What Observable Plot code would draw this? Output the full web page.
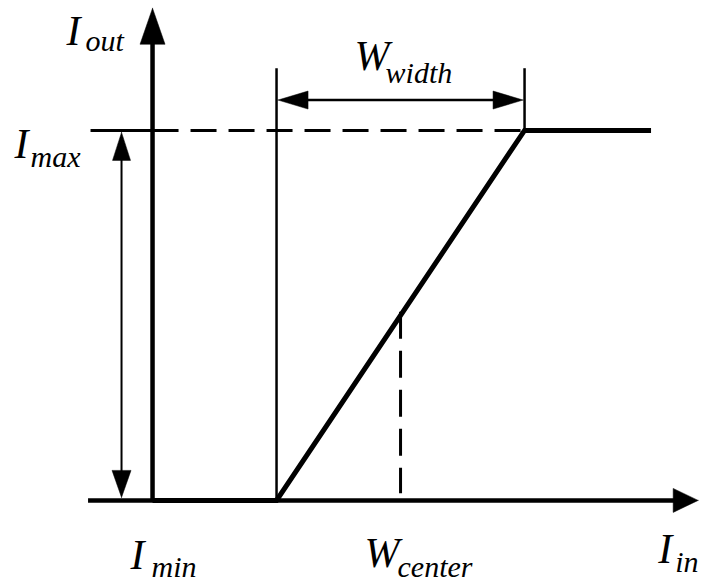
<!DOCTYPE html>
<html><head><meta charset="utf-8">
<script src="https://cdn.jsdelivr.net/npm/d3@7"></script>
<script src="https://cdn.jsdelivr.net/npm/@observablehq/plot@0.6"></script>
<style>
html,body{margin:0;padding:0;background:#fff;overflow:hidden}
#chart svg text{font-family:"Liberation Serif","Times New Roman",serif;font-style:italic}
</style>
</head><body><div id="chart"></div>
<script>
// x: input intensity in window units (Imin = 0, window start = 1, centre = 2, end = 3)
// y: output intensity (Imin level = 0, Imax = 1)
const xDomain = [-1.226, 4.435];
const yDomain = [-0.23, 1.351];

const axisX = [-0.52, 4.40];          // Iin axis start, arrow tip
const axisY = [0, 1.33];              // Iout axis origin, arrow tip
const transferX = [0, 1, 3, 4.02];    // Imin, window start, window end, plateau end
const transferY = [0, 0, 1, 1];
const imaxLevel = 1;
const imaxTickStart = -0.5;
const windowEdges = [1, 3];
const windowCenter = 2;
const centerDashTop = 0.51;
const windowTop = 1.168;
const widthArrowY = 1.082;
const imaxArrowX = -0.25;

const mainText = ["I", "I", "W", "I", "W", "I"];
const subText = ["out", "max", "width", "min", "center", "in"];

const W = 702, H = 585;
const kx = W / (xDomain[1] - xDomain[0]);
const ky = H / (yDomain[1] - yDomain[0]);

// label anchors reference the geometry above
const anchors = [
  {x: 0, y: axisY[1], mdx: -86, mdy: 37, sdx: -67, sdy: 43},
  {x: 0, y: imaxLevel, mdx: -138, mdy: 28, sdx: -122, sdy: 37},
  {x: windowCenter, y: widthArrowY, mdx: -46, mdy: -30, sdx: -15, sdy: -17},
  {x: transferX[0], y: 0, mdx: -22, mdy: 69, sdx: -1, sdy: 77},
  {x: windowCenter, y: 0, mdx: -36, mdy: 67, sdx: -3, sdy: 77},
  {x: axisX[1], y: 0, mdx: -40, mdy: 63, sdx: -23, sdy: 72}
];
const labels = anchors.map((a, i) => ({...a, main: mainText[i], sub: subText[i]}));

function head(id, tx, ty, dir, len, half) {
  const [ux, uy] = {up: [0, 1], down: [0, -1], left: [-1, 0], right: [1, 0]}[dir];
  const bx = tx - ux * len / kx, by = ty - uy * len / ky;
  const px = -uy, py = ux;
  return [
    {id, x: tx, y: ty},
    {id, x: bx + px * half / kx, y: by + py * half / ky},
    {id, x: bx - px * half / kx, y: by - py * half / ky},
    {id, x: tx, y: ty}
  ];
}
const heads = [
  ...head("ya", 0, axisY[1], "up", 36, 12.5),
  ...head("xa", axisX[1], 0, "right", 25, 12),
  ...head("wl", windowEdges[0] + 1.5 / kx, widthArrowY, "left", 30, 9),
  ...head("wr", windowEdges[1] - 1.5 / kx, widthArrowY, "right", 30, 9),
  ...head("it", imaxArrowX, imaxLevel - 2 / ky, "up", 28, 9),
  ...head("ib", imaxArrowX, 3 / ky, "down", 27, 9.5)
];

const seg = (id, x1, y1, x2, y2) => [{id, x: x1, y: y1}, {id, x: x2, y: y2}];
const thick = [
  ...seg("xaxis", axisX[0], 0, axisX[1] - 20 / kx, 0),
  ...seg("yaxis", 0, 0, 0, axisY[1] - 30 / ky)
];
const transfer = transferX.map((x, i) => ({x, y: transferY[i]}));
const thin = [
  ...seg("e1", windowEdges[0], 0, windowEdges[0], windowTop),
  ...seg("e2", windowEdges[1], imaxLevel, windowEdges[1], windowTop),
  ...seg("wa", windowEdges[0] + 10 / kx, widthArrowY, windowEdges[1] - 10 / kx, widthArrowY)
];
const imaxShaft = seg("ia", imaxArrowX, 10 / ky, imaxArrowX, imaxLevel - 10 / ky);
const imaxTick = seg("it", imaxTickStart, imaxLevel, 0, imaxLevel);
const imaxDash = seg("id", 0, imaxLevel, windowEdges[1], imaxLevel);
const centerDash = seg("cd", windowCenter, centerDashTop, windowCenter, 0.019);

const lineStyle = {x: "x", y: "y", z: "id", stroke: "black", strokeLinecap: "butt", strokeLinejoin: "miter", strokeMiterlimit: 10};
const font = {fontFamily: "Liberation Serif", fontStyle: "italic", textAnchor: "start", lineAnchor: "bottom", fill: "black"};

const chart = Plot.plot({
  width: W, height: H, margin: 0,
  x: {domain: xDomain, range: [0, W], axis: null},
  y: {domain: yDomain, range: [H, 0], axis: null},
  style: {background: "white"},
  marks: [
    Plot.line(imaxDash, {...lineStyle, strokeWidth: 3, strokeDasharray: "26,12"}),
    Plot.line(centerDash, {...lineStyle, strokeWidth: 3, strokeDasharray: "27,12"}),
    Plot.line(imaxTick, {...lineStyle, strokeWidth: 3}),
    Plot.line(thin, {...lineStyle, strokeWidth: 2.5}),
    Plot.line(imaxShaft, {...lineStyle, strokeWidth: 2}),
    Plot.line(thick, {...lineStyle, strokeWidth: 4.5}),
    Plot.line(transfer, {x: "x", y: "y", stroke: "black", strokeWidth: 5, strokeLinecap: "butt", strokeLinejoin: "miter", strokeMiterlimit: 10}),
    Plot.line(heads, {x: "x", y: "y", z: "id", fill: "black", stroke: "black", strokeWidth: 0.5, strokeLinejoin: "miter", strokeMiterlimit: 10}),
    ...labels.flatMap(l => [
      Plot.text([l], {x: "x", y: "y", text: "main", dx: l.mdx, dy: l.mdy, fontSize: 42, ...font}),
      Plot.text([l], {x: "x", y: "y", text: "sub", dx: l.sdx, dy: l.sdy, fontSize: 30, ...font})
    ])
  ]
});
document.getElementById("chart").appendChild(chart);
</script>
</body></html>
